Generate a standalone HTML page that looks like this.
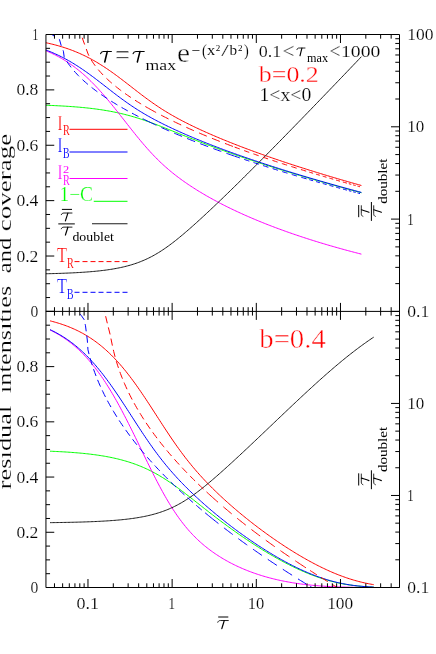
<!DOCTYPE html>
<html><head><meta charset="utf-8"><title>chart</title>
<style>html,body{margin:0;padding:0;background:#fff}body{width:436px;height:654px;overflow:hidden;font-family:"Liberation Serif",serif}svg text{font-family:"Liberation Serif",serif}</style>
</head><body>
<svg width="436" height="654" viewBox="0 0 436 654" style="display:block;will-change:transform">
<rect width="436" height="654" fill="#fff"/>
<defs><clipPath id="ct"><rect x="45.95" y="34.5" width="353.55" height="276.9"/></clipPath><clipPath id="cb"><rect x="45.95" y="311.4" width="353.55" height="276.1"/></clipPath></defs>
<g clip-path="url(#ct)" fill="none" stroke-width="1.0">
<path d="M24.72,104.66 L26.13,104.69 L27.54,104.72 L28.95,104.76 L30.36,104.79 L31.77,104.82 L33.17,104.86 L34.58,104.90 L35.99,104.93 L37.40,104.97 L38.81,105.02 L40.22,105.06 L41.63,105.10 L43.04,105.15 L44.44,105.20 L45.85,105.25 L47.26,105.30 L48.67,105.36 L50.08,105.41 L51.49,105.47 L52.90,105.53 L54.31,105.59 L55.71,105.66 L57.12,105.73 L58.53,105.80 L59.94,105.87 L61.35,105.95 L62.76,106.02 L64.17,106.11 L65.57,106.19 L66.98,106.28 L68.39,106.37 L69.80,106.46 L71.21,106.56 L72.62,106.66 L74.03,106.77 L75.44,106.88 L76.84,106.99 L78.25,107.11 L79.66,107.23 L81.07,107.36 L82.48,107.49 L83.89,107.63 L85.30,107.77 L86.71,107.91 L88.11,108.07 L89.52,108.22 L90.93,108.39 L92.34,108.55 L93.75,108.73 L95.16,108.91 L96.57,109.10 L97.98,109.29 L99.38,109.49 L100.79,109.70 L102.20,109.91 L103.61,110.13 L105.02,110.36 L106.43,110.60 L107.84,110.84 L109.24,111.09 L110.65,111.35 L112.06,111.62 L113.47,111.90 L114.88,112.18 L116.29,112.47 L117.70,112.78 L119.11,113.09 L120.51,113.41 L121.92,113.74 L123.33,114.08 L124.74,114.43 L126.15,114.79 L127.56,115.16 L128.97,115.53 L130.38,115.92 L131.78,116.32 L133.19,116.73 L134.60,117.14 L136.01,117.57 L137.42,118.00 L138.83,118.44 L140.24,118.90 L141.64,119.36 L143.05,119.83 L144.46,120.31 L145.87,120.79 L147.28,121.29 L148.69,121.79 L150.10,122.30 L151.51,122.81 L152.91,123.33 L154.32,123.86 L155.73,124.39 L157.14,124.93 L158.55,125.47 L159.96,126.02 L161.37,126.57 L162.78,127.12 L164.18,127.68 L165.59,128.24 L167.00,128.80 L168.41,129.37 L169.82,129.93 L171.23,130.50 L172.64,131.06 L174.05,131.63 L175.45,132.20 L176.86,132.77 L178.27,133.33 L179.68,133.90 L181.09,134.46 L182.50,135.03 L183.91,135.59 L185.31,136.15 L186.72,136.71 L188.13,137.27 L189.54,137.83 L190.95,138.38 L192.36,138.93 L193.77,139.48 L195.18,140.03 L196.58,140.58 L197.99,141.12 L199.40,141.67 L200.81,142.21 L202.22,142.75 L203.63,143.28 L205.04,143.82 L206.45,144.35 L207.85,144.88 L209.26,145.41 L210.67,145.93 L212.08,146.45 L213.49,146.98 L214.90,147.49 L216.31,148.01 L217.71,148.53 L219.12,149.04 L220.53,149.55 L221.94,150.06 L223.35,150.57 L224.76,151.07 L226.17,151.57 L227.58,152.07 L228.98,152.57 L230.39,153.07 L231.80,153.56 L233.21,154.06 L234.62,154.55 L236.03,155.04 L237.44,155.52 L238.85,156.01 L240.25,156.49 L241.66,156.97 L243.07,157.45 L244.48,157.93 L245.89,158.41 L247.30,158.88 L248.71,159.36 L250.12,159.83 L251.52,160.30 L252.93,160.76 L254.34,161.23 L255.75,161.70 L257.16,162.16 L258.57,162.62 L259.98,163.08 L261.38,163.54 L262.79,163.99 L264.20,164.45 L265.61,164.90 L267.02,165.35 L268.43,165.80 L269.84,166.25 L271.25,166.70 L272.65,167.15 L274.06,167.59 L275.47,168.03 L276.88,168.47 L278.29,168.91 L279.70,169.35 L281.11,169.79 L282.52,170.23 L283.92,170.66 L285.33,171.09 L286.74,171.53 L288.15,171.96 L289.56,172.39 L290.97,172.81 L292.38,173.24 L293.78,173.67 L295.19,174.09 L296.60,174.51 L298.01,174.93 L299.42,175.35 L300.83,175.77 L302.24,176.19 L303.65,176.61 L305.05,177.02 L306.46,177.44 L307.87,177.85 L309.28,178.26 L310.69,178.67 L312.10,179.08 L313.51,179.49 L314.92,179.90 L316.32,180.30 L317.73,180.71 L319.14,181.11 L320.55,181.51 L321.96,181.91 L323.37,182.31 L324.78,182.71 L326.18,183.11 L327.59,183.51 L329.00,183.91 L330.41,184.30 L331.82,184.70 L333.23,185.09 L334.64,185.48 L336.05,185.87 L337.45,186.26 L338.86,186.65 L340.27,187.04 L341.68,187.43 L343.09,187.81 L344.50,188.20 L345.91,188.58 L347.32,188.96 L348.72,189.35 L350.13,189.73 L351.54,190.11 L352.95,190.49 L354.36,190.87 L355.77,191.24 L357.18,191.62 L358.59,192.00 L359.99,192.37 L361.40,192.75" stroke="#00ff00"/>
<path d="M24.72,43.90 L26.13,44.25 L27.54,44.61 L28.95,44.99 L30.36,45.38 L31.77,45.79 L33.17,46.21 L34.58,46.64 L35.99,47.09 L37.40,47.56 L38.81,48.04 L40.22,48.54 L41.63,49.05 L43.04,49.58 L44.44,50.13 L45.85,50.70 L47.26,51.29 L48.67,51.90 L50.08,52.52 L51.49,53.17 L52.90,53.84 L54.31,54.52 L55.71,55.23 L57.12,55.97 L58.53,56.72 L59.94,57.50 L61.35,58.31 L62.76,59.13 L64.17,59.98 L65.57,60.86 L66.98,61.76 L68.39,62.69 L69.80,63.65 L71.21,64.63 L72.62,65.64 L74.03,66.67 L75.44,67.74 L76.84,68.83 L78.25,69.95 L79.66,71.09 L81.07,72.27 L82.48,73.48 L83.89,74.71 L85.30,75.97 L86.71,77.26 L88.11,78.58 L89.52,79.93 L90.93,81.30 L92.34,82.71 L93.75,84.14 L95.16,85.60 L96.57,87.08 L97.98,88.59 L99.38,90.13 L100.79,91.69 L102.20,93.27 L103.61,94.88 L105.02,96.51 L106.43,98.16 L107.84,99.83 L109.24,101.52 L110.65,103.23 L112.06,104.95 L113.47,106.69 L114.88,108.44 L116.29,110.21 L117.70,111.98 L119.11,113.76 L120.51,115.55 L121.92,117.35 L123.33,119.14 L124.74,120.94 L126.15,122.74 L127.56,124.54 L128.97,126.33 L130.38,128.12 L131.78,129.90 L133.19,131.67 L134.60,133.43 L136.01,135.18 L137.42,136.92 L138.83,138.63 L140.24,140.34 L141.64,142.02 L143.05,143.68 L144.46,145.32 L145.87,146.94 L147.28,148.54 L148.69,150.11 L150.10,151.66 L151.51,153.18 L152.91,154.68 L154.32,156.15 L155.73,157.59 L157.14,159.01 L158.55,160.40 L159.96,161.77 L161.37,163.11 L162.78,164.42 L164.18,165.71 L165.59,166.97 L167.00,168.21 L168.41,169.43 L169.82,170.62 L171.23,171.79 L172.64,172.94 L174.05,174.07 L175.45,175.18 L176.86,176.26 L178.27,177.33 L179.68,178.38 L181.09,179.42 L182.50,180.44 L183.91,181.44 L185.31,182.43 L186.72,183.40 L188.13,184.36 L189.54,185.30 L190.95,186.23 L192.36,187.15 L193.77,188.06 L195.18,188.96 L196.58,189.84 L197.99,190.72 L199.40,191.58 L200.81,192.43 L202.22,193.27 L203.63,194.11 L205.04,194.93 L206.45,195.75 L207.85,196.55 L209.26,197.35 L210.67,198.14 L212.08,198.92 L213.49,199.69 L214.90,200.45 L216.31,201.21 L217.71,201.96 L219.12,202.70 L220.53,203.44 L221.94,204.16 L223.35,204.88 L224.76,205.60 L226.17,206.30 L227.58,207.00 L228.98,207.70 L230.39,208.38 L231.80,209.07 L233.21,209.74 L234.62,210.41 L236.03,211.07 L237.44,211.73 L238.85,212.38 L240.25,213.03 L241.66,213.67 L243.07,214.31 L244.48,214.94 L245.89,215.56 L247.30,216.18 L248.71,216.79 L250.12,217.40 L251.52,218.01 L252.93,218.61 L254.34,219.20 L255.75,219.79 L257.16,220.38 L258.57,220.96 L259.98,221.54 L261.38,222.11 L262.79,222.68 L264.20,223.24 L265.61,223.80 L267.02,224.36 L268.43,224.91 L269.84,225.46 L271.25,226.00 L272.65,226.54 L274.06,227.07 L275.47,227.60 L276.88,228.13 L278.29,228.66 L279.70,229.17 L281.11,229.69 L282.52,230.20 L283.92,230.71 L285.33,231.22 L286.74,231.72 L288.15,232.22 L289.56,232.71 L290.97,233.20 L292.38,233.69 L293.78,234.18 L295.19,234.66 L296.60,235.14 L298.01,235.61 L299.42,236.08 L300.83,236.55 L302.24,237.02 L303.65,237.48 L305.05,237.94 L306.46,238.40 L307.87,238.85 L309.28,239.30 L310.69,239.75 L312.10,240.20 L313.51,240.64 L314.92,241.08 L316.32,241.51 L317.73,241.95 L319.14,242.38 L320.55,242.81 L321.96,243.23 L323.37,243.65 L324.78,244.07 L326.18,244.49 L327.59,244.91 L329.00,245.32 L330.41,245.73 L331.82,246.14 L333.23,246.54 L334.64,246.94 L336.05,247.34 L337.45,247.74 L338.86,248.14 L340.27,248.53 L341.68,248.92 L343.09,249.31 L344.50,249.69 L345.91,250.08 L347.32,250.46 L348.72,250.84 L350.13,251.21 L351.54,251.59 L352.95,251.96 L354.36,252.33 L355.77,252.70 L357.18,253.06 L358.59,253.43 L359.99,253.79 L361.40,254.15" stroke="#ff00ff"/>
<path d="M24.72,43.66 L26.13,43.99 L27.54,44.34 L28.95,44.70 L30.36,45.06 L31.77,45.45 L33.17,45.84 L34.58,46.25 L35.99,46.66 L37.40,47.10 L38.81,47.54 L40.22,48.00 L41.63,48.48 L43.04,48.97 L44.44,49.47 L45.85,49.99 L47.26,50.52 L48.67,51.07 L50.08,51.64 L51.49,52.22 L52.90,52.82 L54.31,53.44 L55.71,54.07 L57.12,54.72 L58.53,55.38 L59.94,56.07 L61.35,56.77 L62.76,57.49 L64.17,58.22 L65.57,58.97 L66.98,59.74 L68.39,60.53 L69.80,61.34 L71.21,62.16 L72.62,63.00 L74.03,63.86 L75.44,64.73 L76.84,65.63 L78.25,66.53 L79.66,67.46 L81.07,68.39 L82.48,69.35 L83.89,70.32 L85.30,71.30 L86.71,72.29 L88.11,73.30 L89.52,74.32 L90.93,75.36 L92.34,76.40 L93.75,77.45 L95.16,78.51 L96.57,79.58 L97.98,80.66 L99.38,81.74 L100.79,82.83 L102.20,83.92 L103.61,85.01 L105.02,86.11 L106.43,87.21 L107.84,88.30 L109.24,89.40 L110.65,90.49 L112.06,91.58 L113.47,92.66 L114.88,93.74 L116.29,94.82 L117.70,95.88 L119.11,96.94 L120.51,97.99 L121.92,99.03 L123.33,100.05 L124.74,101.07 L126.15,102.08 L127.56,103.07 L128.97,104.05 L130.38,105.02 L131.78,105.97 L133.19,106.91 L134.60,107.84 L136.01,108.75 L137.42,109.65 L138.83,110.54 L140.24,111.41 L141.64,112.27 L143.05,113.12 L144.46,113.95 L145.87,114.77 L147.28,115.58 L148.69,116.38 L150.10,117.17 L151.51,117.95 L152.91,118.72 L154.32,119.47 L155.73,120.22 L157.14,120.96 L158.55,121.69 L159.96,122.41 L161.37,123.13 L162.78,123.83 L164.18,124.53 L165.59,125.22 L167.00,125.91 L168.41,126.59 L169.82,127.26 L171.23,127.93 L172.64,128.59 L174.05,129.24 L175.45,129.89 L176.86,130.54 L178.27,131.17 L179.68,131.81 L181.09,132.44 L182.50,133.06 L183.91,133.68 L185.31,134.30 L186.72,134.91 L188.13,135.52 L189.54,136.12 L190.95,136.72 L192.36,137.31 L193.77,137.90 L195.18,138.49 L196.58,139.07 L197.99,139.65 L199.40,140.23 L200.81,140.80 L202.22,141.37 L203.63,141.94 L205.04,142.50 L206.45,143.06 L207.85,143.61 L209.26,144.17 L210.67,144.72 L212.08,145.27 L213.49,145.81 L214.90,146.35 L216.31,146.89 L217.71,147.42 L219.12,147.96 L220.53,148.49 L221.94,149.02 L223.35,149.54 L224.76,150.06 L226.17,150.58 L227.58,151.10 L228.98,151.62 L230.39,152.13 L231.80,152.64 L233.21,153.15 L234.62,153.65 L236.03,154.15 L237.44,154.66 L238.85,155.15 L240.25,155.65 L241.66,156.15 L243.07,156.64 L244.48,157.13 L245.89,157.62 L247.30,158.10 L248.71,158.59 L250.12,159.07 L251.52,159.55 L252.93,160.03 L254.34,160.50 L255.75,160.98 L257.16,161.45 L258.57,161.92 L259.98,162.39 L261.38,162.86 L262.79,163.32 L264.20,163.78 L265.61,164.25 L267.02,164.71 L268.43,165.17 L269.84,165.62 L271.25,166.08 L272.65,166.53 L274.06,166.98 L275.47,167.43 L276.88,167.88 L278.29,168.33 L279.70,168.77 L281.11,169.22 L282.52,169.66 L283.92,170.10 L285.33,170.54 L286.74,170.98 L288.15,171.41 L289.56,171.85 L290.97,172.28 L292.38,172.72 L293.78,173.15 L295.19,173.58 L296.60,174.00 L298.01,174.43 L299.42,174.86 L300.83,175.28 L302.24,175.70 L303.65,176.12 L305.05,176.55 L306.46,176.96 L307.87,177.38 L309.28,177.80 L310.69,178.21 L312.10,178.63 L313.51,179.04 L314.92,179.45 L316.32,179.86 L317.73,180.27 L319.14,180.68 L320.55,181.09 L321.96,181.49 L323.37,181.90 L324.78,182.30 L326.18,182.70 L327.59,183.10 L329.00,183.50 L330.41,183.90 L331.82,184.30 L333.23,184.69 L334.64,185.09 L336.05,185.48 L337.45,185.88 L338.86,186.27 L340.27,186.66 L341.68,187.05 L343.09,187.44 L344.50,187.83 L345.91,188.22 L347.32,188.60 L348.72,188.99 L350.13,189.37 L351.54,189.76 L352.95,190.14 L354.36,190.52 L355.77,190.90 L357.18,191.28 L358.59,191.66 L359.99,192.04 L361.40,192.41" stroke="#0000ff"/>
<path d="M24.72,39.24 L26.13,39.42 L27.54,39.60 L28.95,39.80 L30.36,40.00 L31.77,40.20 L33.17,40.42 L34.58,40.64 L35.99,40.87 L37.40,41.11 L38.81,41.35 L40.22,41.61 L41.63,41.87 L43.04,42.15 L44.44,42.43 L45.85,42.72 L47.26,43.03 L48.67,43.34 L50.08,43.66 L51.49,44.00 L52.90,44.34 L54.31,44.70 L55.71,45.07 L57.12,45.45 L58.53,45.84 L59.94,46.25 L61.35,46.67 L62.76,47.10 L64.17,47.55 L65.57,48.01 L66.98,48.48 L68.39,48.97 L69.80,49.48 L71.21,50.00 L72.62,50.53 L74.03,51.08 L75.44,51.65 L76.84,52.23 L78.25,52.83 L79.66,53.45 L81.07,54.08 L82.48,54.73 L83.89,55.39 L85.30,56.08 L86.71,56.78 L88.11,57.50 L89.52,58.23 L90.93,58.98 L92.34,59.76 L93.75,60.54 L95.16,61.35 L96.57,62.17 L97.98,63.01 L99.38,63.87 L100.79,64.75 L102.20,65.64 L103.61,66.54 L105.02,67.47 L106.43,68.41 L107.84,69.36 L109.24,70.33 L110.65,71.31 L112.06,72.31 L113.47,73.32 L114.88,74.34 L116.29,75.37 L117.70,76.41 L119.11,77.46 L120.51,78.53 L121.92,79.59 L123.33,80.67 L124.74,81.75 L126.15,82.84 L127.56,83.93 L128.97,85.03 L130.38,86.12 L131.78,87.22 L133.19,88.32 L134.60,89.41 L136.01,90.51 L137.42,91.59 L138.83,92.68 L140.24,93.76 L141.64,94.83 L143.05,95.90 L144.46,96.95 L145.87,98.00 L147.28,99.04 L148.69,100.07 L150.10,101.09 L151.51,102.09 L152.91,103.08 L154.32,104.06 L155.73,105.03 L157.14,105.98 L158.55,106.92 L159.96,107.85 L161.37,108.76 L162.78,109.66 L164.18,110.55 L165.59,111.42 L167.00,112.28 L168.41,113.13 L169.82,113.96 L171.23,114.78 L172.64,115.59 L174.05,116.39 L175.45,117.18 L176.86,117.96 L178.27,118.73 L179.68,119.48 L181.09,120.23 L182.50,120.97 L183.91,121.70 L185.31,122.42 L186.72,123.14 L188.13,123.84 L189.54,124.54 L190.95,125.23 L192.36,125.92 L193.77,126.60 L195.18,127.27 L196.58,127.93 L197.99,128.60 L199.40,129.25 L200.81,129.90 L202.22,130.54 L203.63,131.18 L205.04,131.82 L206.45,132.45 L207.85,133.07 L209.26,133.69 L210.67,134.31 L212.08,134.92 L213.49,135.52 L214.90,136.13 L216.31,136.72 L217.71,137.32 L219.12,137.91 L220.53,138.50 L221.94,139.08 L223.35,139.66 L224.76,140.24 L226.17,140.81 L227.58,141.38 L228.98,141.94 L230.39,142.51 L231.80,143.07 L233.21,143.62 L234.62,144.18 L236.03,144.73 L237.44,145.27 L238.85,145.82 L240.25,146.36 L241.66,146.90 L243.07,147.43 L244.48,147.96 L245.89,148.50 L247.30,149.02 L248.71,149.55 L250.12,150.07 L251.52,150.59 L252.93,151.11 L254.34,151.62 L255.75,152.13 L257.16,152.64 L258.57,153.15 L259.98,153.66 L261.38,154.16 L262.79,154.66 L264.20,155.16 L265.61,155.66 L267.02,156.15 L268.43,156.64 L269.84,157.13 L271.25,157.62 L272.65,158.11 L274.06,158.59 L275.47,159.07 L276.88,159.55 L278.29,160.03 L279.70,160.51 L281.11,160.98 L282.52,161.46 L283.92,161.93 L285.33,162.40 L286.74,162.86 L288.15,163.33 L289.56,163.79 L290.97,164.25 L292.38,164.71 L293.78,165.17 L295.19,165.63 L296.60,166.08 L298.01,166.54 L299.42,166.99 L300.83,167.44 L302.24,167.89 L303.65,168.33 L305.05,168.78 L306.46,169.22 L307.87,169.67 L309.28,170.11 L310.69,170.55 L312.10,170.98 L313.51,171.42 L314.92,171.86 L316.32,172.29 L317.73,172.72 L319.14,173.15 L320.55,173.58 L321.96,174.01 L323.37,174.44 L324.78,174.86 L326.18,175.29 L327.59,175.71 L329.00,176.13 L330.41,176.55 L331.82,176.97 L333.23,177.39 L334.64,177.80 L336.05,178.22 L337.45,178.63 L338.86,179.05 L340.27,179.46 L341.68,179.87 L343.09,180.28 L344.50,180.68 L345.91,181.09 L347.32,181.50 L348.72,181.90 L350.13,182.30 L351.54,182.71 L352.95,183.11 L354.36,183.51 L355.77,183.91 L357.18,184.30 L358.59,184.70 L359.99,185.10 L361.40,185.49" stroke="#ff0000"/>
<path d="M24.72,274.12 L26.13,274.10 L27.54,274.08 L28.95,274.06 L30.36,274.04 L31.77,274.02 L33.17,274.00 L34.58,273.98 L35.99,273.96 L37.40,273.93 L38.81,273.91 L40.22,273.88 L41.63,273.85 L43.04,273.83 L44.44,273.80 L45.85,273.76 L47.26,273.73 L48.67,273.70 L50.08,273.66 L51.49,273.63 L52.90,273.59 L54.31,273.55 L55.71,273.51 L57.12,273.47 L58.53,273.42 L59.94,273.38 L61.35,273.33 L62.76,273.28 L64.17,273.23 L65.57,273.17 L66.98,273.11 L68.39,273.06 L69.80,272.99 L71.21,272.93 L72.62,272.86 L74.03,272.79 L75.44,272.72 L76.84,272.64 L78.25,272.56 L79.66,272.48 L81.07,272.39 L82.48,272.30 L83.89,272.21 L85.30,272.11 L86.71,272.01 L88.11,271.90 L89.52,271.79 L90.93,271.68 L92.34,271.55 L93.75,271.43 L95.16,271.30 L96.57,271.16 L97.98,271.01 L99.38,270.86 L100.79,270.70 L102.20,270.54 L103.61,270.37 L105.02,270.19 L106.43,270.00 L107.84,269.80 L109.24,269.60 L110.65,269.38 L112.06,269.16 L113.47,268.92 L114.88,268.67 L116.29,268.42 L117.70,268.15 L119.11,267.87 L120.51,267.57 L121.92,267.27 L123.33,266.94 L124.74,266.61 L126.15,266.26 L127.56,265.89 L128.97,265.51 L130.38,265.11 L131.78,264.69 L133.19,264.25 L134.60,263.79 L136.01,263.32 L137.42,262.82 L138.83,262.30 L140.24,261.76 L141.64,261.20 L143.05,260.62 L144.46,260.01 L145.87,259.38 L147.28,258.73 L148.69,258.05 L150.10,257.34 L151.51,256.61 L152.91,255.86 L154.32,255.08 L155.73,254.28 L157.14,253.45 L158.55,252.59 L159.96,251.72 L161.37,250.81 L162.78,249.89 L164.18,248.94 L165.59,247.97 L167.00,246.98 L168.41,245.97 L169.82,244.93 L171.23,243.88 L172.64,242.81 L174.05,241.72 L175.45,240.61 L176.86,239.49 L178.27,238.36 L179.68,237.21 L181.09,236.04 L182.50,234.87 L183.91,233.68 L185.31,232.48 L186.72,231.27 L188.13,230.05 L189.54,228.82 L190.95,227.58 L192.36,226.33 L193.77,225.08 L195.18,223.82 L196.58,222.55 L197.99,221.27 L199.40,219.99 L200.81,218.70 L202.22,217.41 L203.63,216.11 L205.04,214.80 L206.45,213.49 L207.85,212.18 L209.26,210.86 L210.67,209.54 L212.08,208.21 L213.49,206.88 L214.90,205.54 L216.31,204.20 L217.71,202.86 L219.12,201.51 L220.53,200.16 L221.94,198.80 L223.35,197.45 L224.76,196.09 L226.17,194.72 L227.58,193.36 L228.98,191.99 L230.39,190.62 L231.80,189.24 L233.21,187.87 L234.62,186.49 L236.03,185.10 L237.44,183.72 L238.85,182.33 L240.25,180.94 L241.66,179.55 L243.07,178.16 L244.48,176.76 L245.89,175.37 L247.30,173.97 L248.71,172.57 L250.12,171.16 L251.52,169.76 L252.93,168.35 L254.34,166.94 L255.75,165.53 L257.16,164.12 L258.57,162.71 L259.98,161.29 L261.38,159.87 L262.79,158.46 L264.20,157.04 L265.61,155.61 L267.02,154.19 L268.43,152.77 L269.84,151.34 L271.25,149.92 L272.65,148.49 L274.06,147.06 L275.47,145.63 L276.88,144.20 L278.29,142.76 L279.70,141.33 L281.11,139.89 L282.52,138.46 L283.92,137.02 L285.33,135.58 L286.74,134.14 L288.15,132.70 L289.56,131.26 L290.97,129.81 L292.38,128.37 L293.78,126.93 L295.19,125.48 L296.60,124.03 L298.01,122.58 L299.42,121.14 L300.83,119.69 L302.24,118.24 L303.65,116.78 L305.05,115.33 L306.46,113.88 L307.87,112.43 L309.28,110.97 L310.69,109.52 L312.10,108.06 L313.51,106.60 L314.92,105.14 L316.32,103.69 L317.73,102.23 L319.14,100.77 L320.55,99.31 L321.96,97.85 L323.37,96.38 L324.78,94.92 L326.18,93.46 L327.59,91.99 L329.00,90.53 L330.41,89.06 L331.82,87.60 L333.23,86.13 L334.64,84.66 L336.05,83.19 L337.45,81.73 L338.86,80.26 L340.27,78.79 L341.68,77.32 L343.09,75.85 L344.50,74.38 L345.91,72.90 L347.32,71.43 L348.72,69.96 L350.13,68.48 L351.54,67.01 L352.95,65.54 L354.36,64.06 L355.77,62.59 L357.18,61.11 L358.59,59.63 L359.99,58.16 L361.40,56.68" stroke="#1c1c1c"/>
<path d="M78.00,26.50 L81.00,34.50 L88.11,54.06 L89.52,56.88 L90.93,59.38 L92.34,61.65 L93.75,63.75 L95.16,65.70 L96.57,67.54 L97.98,69.28 L99.38,70.94 L100.79,72.53 L102.20,74.05 L103.61,75.52 L105.02,76.94 L106.43,78.31 L107.84,79.64 L109.24,80.93 L110.65,82.18 L112.06,83.41 L113.47,84.60 L114.88,85.77 L116.29,86.91 L117.70,88.02 L119.11,89.11 L120.51,90.19 L121.92,91.24 L123.33,92.27 L124.74,93.28 L126.15,94.28 L127.56,95.26 L128.97,96.23 L130.38,97.18 L131.78,98.11 L133.19,99.03 L134.60,99.94 L136.01,100.84 L137.42,101.73 L138.83,102.60 L140.24,103.46 L141.64,104.31 L143.05,105.15 L144.46,105.99 L145.87,106.81 L147.28,107.62 L148.69,108.42" stroke="#ff0000" stroke-dasharray="7.2 4.8"/>
<path d="M148.69,108.42 L150.10,109.22 L151.51,110.01 L152.91,110.78 L154.32,111.56 L155.73,112.32 L157.14,113.07 L158.55,113.82 L159.96,114.56 L161.37,115.30 L162.78,116.03 L164.18,116.75 L165.59,117.46 L167.00,118.17 L168.41,118.88 L169.82,119.57 L171.23,120.27 L172.64,120.95 L174.05,121.63 L175.45,122.31 L176.86,122.98 L178.27,123.64 L179.68,124.30 L181.09,124.96 L182.50,125.61 L183.91,126.26 L185.31,126.90 L186.72,127.54 L188.13,128.17 L189.54,128.80 L190.95,129.42 L192.36,130.04 L193.77,130.66 L195.18,131.27 L196.58,131.88 L197.99,132.49 L199.40,133.09 L200.81,133.69 L202.22,134.28 L203.63,134.87 L205.04,135.46 L206.45,136.04 L207.85,136.62 L209.26,137.20 L210.67,137.77 L212.08,138.34 L213.49,138.91 L214.90,139.47 L216.31,140.04 L217.71,140.59 L219.12,141.15 L220.53,141.70 L221.94,142.25 L223.35,142.80 L224.76,143.34 L226.17,143.89 L227.58,144.42 L228.98,144.96 L230.39,145.49 L231.80,146.03 L233.21,146.55 L234.62,147.08" stroke="#ff0000" stroke-dasharray="8.5 5.5"/>
<path d="M234.62,147.08 L236.03,147.60 L237.44,148.13 L238.85,148.64 L240.25,149.16 L241.66,149.68 L243.07,150.19 L244.48,150.70 L245.89,151.20 L247.30,151.71 L248.71,152.21 L250.12,152.71 L251.52,153.21 L252.93,153.71 L254.34,154.20 L255.75,154.70 L257.16,155.19 L258.57,155.68 L259.98,156.16 L261.38,156.65 L262.79,157.13 L264.20,157.61 L265.61,158.09 L267.02,158.57 L268.43,159.04 L269.84,159.52 L271.25,159.99 L272.65,160.46 L274.06,160.93 L275.47,161.39 L276.88,161.86 L278.29,162.32 L279.70,162.78 L281.11,163.24 L282.52,163.70 L283.92,164.16 L285.33,164.61 L286.74,165.07 L288.15,165.52 L289.56,165.97 L290.97,166.42 L292.38,166.86 L293.78,167.31 L295.19,167.75 L296.60,168.20 L298.01,168.64 L299.42,169.08 L300.83,169.52 L302.24,169.95 L303.65,170.39 L305.05,170.82 L306.46,171.26 L307.87,171.69 L309.28,172.12" stroke="#ff0000" stroke-dasharray="5.5 4.5"/>
<path d="M309.28,172.12 L310.69,172.55 L312.10,172.97 L313.51,173.40 L314.92,173.82 L316.32,174.25 L317.73,174.67 L319.14,175.09 L320.55,175.51 L321.96,175.93 L323.37,176.35 L324.78,176.76 L326.18,177.18 L327.59,177.59 L329.00,178.00 L330.41,178.41 L331.82,178.82 L333.23,179.23 L334.64,179.64 L336.05,180.05 L337.45,180.45 L338.86,180.86 L340.27,181.26 L341.68,181.66 L343.09,182.06 L344.50,182.46" stroke="#ff0000" stroke-dasharray="4 3"/>
<path d="M344.50,182.46 L345.91,182.86 L347.32,183.26 L348.72,183.66 L350.13,184.05 L351.54,184.45 L352.95,184.84 L354.36,185.23 L355.77,185.63 L357.18,186.02 L358.59,186.41 L359.99,186.79 L361.40,187.18" stroke="#ff0000" stroke-dasharray="2.5 2"/>
<path d="M49.00,32.50 L54.50,36.30 L59.50,39.60 L61.20,45.60 L63.40,51.20 L64.17,56.84 L65.57,59.35 L66.98,61.62 L68.39,63.72 L69.80,65.68 L71.21,67.52 L72.62,69.26 L74.03,70.92 L75.44,72.51 L76.84,74.03 L78.25,75.50 L79.66,76.92 L81.07,78.29 L82.48,79.62 L83.89,80.91 L85.30,82.17 L86.71,83.39 L88.11,84.58 L89.52,85.75 L90.93,86.89 L92.34,88.01 L93.75,89.10 L95.16,90.17 L96.57,91.22 L97.98,92.26 L99.38,93.27 L100.79,94.27 L102.20,95.25 L103.61,96.21 L105.02,97.16 L106.43,98.10 L107.84,99.02 L109.24,99.93 L110.65,100.83 L112.06,101.71 L113.47,102.59 L114.88,103.45 L116.29,104.30 L117.70,105.14 L119.11,105.97 L120.51,106.80 L121.92,107.61 L123.33,108.41 L124.74,109.21 L126.15,110.00 L127.56,110.77 L128.97,111.54 L130.38,112.31 L131.78,113.06 L133.19,113.81 L134.60,114.55 L136.01,115.29 L137.42,116.02 L138.83,116.74 L140.24,117.45 L141.64,118.16 L143.05,118.87 L144.46,119.56 L145.87,120.26 L147.28,120.94 L148.69,121.62" stroke="#0000ff" stroke-dasharray="7.2 4.8"/>
<path d="M148.69,121.62 L150.10,122.30 L151.51,122.97 L152.91,123.64 L154.32,124.30 L155.73,124.95 L157.14,125.60 L158.55,126.25 L159.96,126.89 L161.37,127.53 L162.78,128.16 L164.18,128.79 L165.59,129.42 L167.00,130.04 L168.41,130.65 L169.82,131.26 L171.23,131.87 L172.64,132.48 L174.05,133.08 L175.45,133.68 L176.86,134.27 L178.27,134.86 L179.68,135.45 L181.09,136.03 L182.50,136.61 L183.91,137.19 L185.31,137.76 L186.72,138.34 L188.13,138.90 L189.54,139.47 L190.95,140.03 L192.36,140.59 L193.77,141.14 L195.18,141.70 L196.58,142.25 L197.99,142.79 L199.40,143.34 L200.81,143.88 L202.22,144.42 L203.63,144.95 L205.04,145.49 L206.45,146.02 L207.85,146.55 L209.26,147.07 L210.67,147.60 L212.08,148.12 L213.49,148.64 L214.90,149.15 L216.31,149.67 L217.71,150.18 L219.12,150.69 L220.53,151.20 L221.94,151.70 L223.35,152.21 L224.76,152.71 L226.17,153.21 L227.58,153.70 L228.98,154.20 L230.39,154.69 L231.80,155.18 L233.21,155.67 L234.62,156.16" stroke="#0000ff" stroke-dasharray="8.5 5.5"/>
<path d="M234.62,156.16 L236.03,156.64 L237.44,157.12 L238.85,157.60 L240.25,158.08 L241.66,158.56 L243.07,159.04 L244.48,159.51 L245.89,159.98 L247.30,160.45 L248.71,160.92 L250.12,161.39 L251.52,161.85 L252.93,162.32 L254.34,162.78 L255.75,163.24 L257.16,163.69 L258.57,164.15 L259.98,164.61 L261.38,165.06 L262.79,165.51 L264.20,165.96 L265.61,166.41 L267.02,166.86 L268.43,167.30 L269.84,167.75 L271.25,168.19 L272.65,168.63 L274.06,169.07 L275.47,169.51 L276.88,169.95 L278.29,170.38 L279.70,170.82 L281.11,171.25 L282.52,171.68 L283.92,172.11 L285.33,172.54 L286.74,172.97 L288.15,173.39 L289.56,173.82 L290.97,174.24 L292.38,174.66 L293.78,175.09 L295.19,175.51 L296.60,175.92 L298.01,176.34 L299.42,176.76 L300.83,177.17 L302.24,177.59 L303.65,178.00 L305.05,178.41 L306.46,178.82 L307.87,179.23 L309.28,179.64" stroke="#0000ff" stroke-dasharray="5.5 4.5"/>
<path d="M309.28,179.64 L310.69,180.04 L312.10,180.45 L313.51,180.85 L314.92,181.26 L316.32,181.66 L317.73,182.06 L319.14,182.46 L320.55,182.86 L321.96,183.25 L323.37,183.65 L324.78,184.05 L326.18,184.44 L327.59,184.84 L329.00,185.23 L330.41,185.62 L331.82,186.01 L333.23,186.40 L334.64,186.79 L336.05,187.18 L337.45,187.56 L338.86,187.95 L340.27,188.33 L341.68,188.72 L343.09,189.10 L344.50,189.48" stroke="#0000ff" stroke-dasharray="4 3"/>
<path d="M344.50,189.48 L345.91,189.86 L347.32,190.24 L348.72,190.62 L350.13,191.00 L351.54,191.38 L352.95,191.75 L354.36,192.13 L355.77,192.50 L357.18,192.88 L358.59,193.25 L359.99,193.62 L361.40,193.99" stroke="#0000ff" stroke-dasharray="2.5 2"/>
</g>
<g clip-path="url(#cb)" fill="none" stroke-width="1.0">
<path d="M50.05,451.20 L51.40,451.26 L52.75,451.32 L54.11,451.38 L55.46,451.44 L56.82,451.51 L58.17,451.58 L59.52,451.65 L60.88,451.72 L62.23,451.79 L63.59,451.87 L64.94,451.95 L66.30,452.04 L67.65,452.12 L69.00,452.21 L70.36,452.31 L71.71,452.41 L73.07,452.51 L74.42,452.61 L75.77,452.72 L77.13,452.83 L78.48,452.95 L79.84,453.07 L81.19,453.19 L82.54,453.32 L83.90,453.46 L85.25,453.60 L86.61,453.74 L87.96,453.89 L89.32,454.05 L90.67,454.21 L92.02,454.38 L93.38,454.55 L94.73,454.73 L96.09,454.91 L97.44,455.11 L98.79,455.30 L100.15,455.51 L101.50,455.72 L102.86,455.95 L104.21,456.17 L105.57,456.41 L106.92,456.66 L108.27,456.91 L109.63,457.17 L110.98,457.45 L112.34,457.73 L113.69,458.02 L115.04,458.32 L116.40,458.63 L117.75,458.95 L119.11,459.29 L120.46,459.63 L121.82,459.99 L123.17,460.36 L124.52,460.74 L125.88,461.13 L127.23,461.53 L128.59,461.95 L129.94,462.38 L131.29,462.83 L132.65,463.29 L134.00,463.77 L135.36,464.25 L136.71,464.76 L138.07,465.28 L139.42,465.81 L140.77,466.36 L142.13,466.93 L143.48,467.52 L144.84,468.12 L146.19,468.73 L147.54,469.37 L148.90,470.02 L150.25,470.69 L151.61,471.37 L152.96,472.07 L154.31,472.79 L155.67,473.53 L157.02,474.29 L158.38,475.06 L159.73,475.85 L161.09,476.66 L162.44,477.48 L163.79,478.32 L165.15,479.18 L166.50,480.05 L167.86,480.94 L169.21,481.84 L170.56,482.76 L171.92,483.69 L173.27,484.64 L174.63,485.59 L175.98,486.56 L177.34,487.55 L178.69,488.54 L180.04,489.55 L181.40,490.56 L182.75,491.58 L184.11,492.61 L185.46,493.65 L186.81,494.69 L188.17,495.74 L189.52,496.80 L190.88,497.86 L192.23,498.92 L193.59,499.98 L194.94,501.05 L196.29,502.12 L197.65,503.19 L199.00,504.26 L200.36,505.33 L201.71,506.39 L203.06,507.46 L204.42,508.52 L205.77,509.59 L207.13,510.65 L208.48,511.70 L209.84,512.76 L211.19,513.81 L212.54,514.85 L213.90,515.89 L215.25,516.93 L216.61,517.96 L217.96,518.99 L219.31,520.02 L220.67,521.04 L222.02,522.05 L223.38,523.06 L224.73,524.06 L226.08,525.06 L227.44,526.05 L228.79,527.04 L230.15,528.03 L231.50,529.00 L232.86,529.97 L234.21,530.94 L235.56,531.90 L236.92,532.86 L238.27,533.80 L239.63,534.75 L240.98,535.69 L242.33,536.62 L243.69,537.54 L245.04,538.46 L246.40,539.38 L247.75,540.28 L249.11,541.19 L250.46,542.08 L251.81,542.97 L253.17,543.85 L254.52,544.73 L255.88,545.60 L257.23,546.47 L258.58,547.32 L259.94,548.17 L261.29,549.02 L262.65,549.86 L264.00,550.69 L265.36,551.51 L266.71,552.33 L268.06,553.14 L269.42,553.94 L270.77,554.74 L272.13,555.53 L273.48,556.31 L274.83,557.08 L276.19,557.85 L277.54,558.61 L278.90,559.36 L280.25,560.10 L281.61,560.84 L282.96,561.57 L284.31,562.29 L285.67,563.00 L287.02,563.70 L288.38,564.40 L289.73,565.08 L291.08,565.76 L292.44,566.43 L293.79,567.08 L295.15,567.73 L296.50,568.37 L297.85,569.01 L299.21,569.63 L300.56,570.24 L301.92,570.84 L303.27,571.43 L304.63,572.01 L305.98,572.59 L307.33,573.15 L308.69,573.70 L310.04,574.24 L311.40,574.77 L312.75,575.29 L314.10,575.79 L315.46,576.29 L316.81,576.78 L318.17,577.25 L319.52,577.71 L320.88,578.17 L322.23,578.61 L323.58,579.03 L324.94,579.45 L326.29,579.86 L327.65,580.25 L329.00,580.63 L330.35,581.00 L331.71,581.36 L333.06,581.70 L334.42,582.04 L335.77,582.36 L337.13,582.67 L338.48,582.97 L339.83,583.25 L341.19,583.53 L342.54,583.79 L343.90,584.04 L345.25,584.29 L346.60,584.51 L347.96,584.73 L349.31,584.94 L350.67,585.14 L352.02,585.32 L353.38,585.50 L354.73,585.67 L356.08,585.82 L357.44,585.97 L358.79,586.11 L360.15,586.23 L361.50,586.35 L362.85,586.46 L364.21,586.57 L365.56,586.66 L366.92,586.75 L368.27,586.83 L369.62,586.91 L370.98,586.97 L372.33,587.04 L373.69,587.09" stroke="#00ff00"/>
<path d="M50.05,329.97 L51.40,330.63 L52.75,331.32 L54.11,332.03 L55.46,332.76 L56.82,333.52 L58.17,334.30 L59.52,335.11 L60.88,335.94 L62.23,336.80 L63.59,337.69 L64.94,338.60 L66.30,339.55 L67.65,340.52 L69.00,341.53 L70.36,342.57 L71.71,343.64 L73.07,344.74 L74.42,345.87 L75.77,347.04 L77.13,348.25 L78.48,349.49 L79.84,350.77 L81.19,352.08 L82.54,353.43 L83.90,354.82 L85.25,356.25 L86.61,357.72 L87.96,359.22 L89.32,360.77 L90.67,362.36 L92.02,363.99 L93.38,365.67 L94.73,367.38 L96.09,369.14 L97.44,370.94 L98.79,372.78 L100.15,374.67 L101.50,376.60 L102.86,378.57 L104.21,380.59 L105.57,382.65 L106.92,384.75 L108.27,386.90 L109.63,389.09 L110.98,391.31 L112.34,393.59 L113.69,395.90 L115.04,398.25 L116.40,400.64 L117.75,403.06 L119.11,405.53 L120.46,408.03 L121.82,410.56 L123.17,413.12 L124.52,415.72 L125.88,418.34 L127.23,421.00 L128.59,423.68 L129.94,426.38 L131.29,429.10 L132.65,431.84 L134.00,434.60 L135.36,437.37 L136.71,440.15 L138.07,442.94 L139.42,445.74 L140.77,448.54 L142.13,451.35 L143.48,454.15 L144.84,456.94 L146.19,459.73 L147.54,462.50 L148.90,465.26 L150.25,468.01 L151.61,470.73 L152.96,473.44 L154.31,476.11 L155.67,478.76 L157.02,481.38 L158.38,483.97 L159.73,486.52 L161.09,489.04 L162.44,491.52 L163.79,493.95 L165.15,496.34 L166.50,498.69 L167.86,501.00 L169.21,503.25 L170.56,505.46 L171.92,507.62 L173.27,509.74 L174.63,511.80 L175.98,513.81 L177.34,515.77 L178.69,517.69 L180.04,519.55 L181.40,521.37 L182.75,523.13 L184.11,524.85 L185.46,526.52 L186.81,528.15 L188.17,529.73 L189.52,531.27 L190.88,532.76 L192.23,534.21 L193.59,535.63 L194.94,537.00 L196.29,538.34 L197.65,539.63 L199.00,540.90 L200.36,542.13 L201.71,543.33 L203.06,544.49 L204.42,545.63 L205.77,546.74 L207.13,547.82 L208.48,548.87 L209.84,549.89 L211.19,550.90 L212.54,551.87 L213.90,552.83 L215.25,553.76 L216.61,554.67 L217.96,555.55 L219.31,556.42 L220.67,557.27 L222.02,558.10 L223.38,558.91 L224.73,559.70 L226.08,560.47 L227.44,561.23 L228.79,561.97 L230.15,562.69 L231.50,563.40 L232.86,564.09 L234.21,564.76 L235.56,565.42 L236.92,566.07 L238.27,566.70 L239.63,567.32 L240.98,567.92 L242.33,568.51 L243.69,569.09 L245.04,569.65 L246.40,570.20 L247.75,570.74 L249.11,571.27 L250.46,571.78 L251.81,572.28 L253.17,572.77 L254.52,573.25 L255.88,573.72 L257.23,574.18 L258.58,574.62 L259.94,575.06 L261.29,575.48 L262.65,575.90 L264.00,576.30 L265.36,576.70 L266.71,577.08 L268.06,577.46 L269.42,577.82 L270.77,578.18 L272.13,578.52 L273.48,578.86 L274.83,579.19 L276.19,579.51 L277.54,579.82 L278.90,580.13 L280.25,580.42 L281.61,580.71 L282.96,580.98 L284.31,581.25 L285.67,581.52 L287.02,581.77 L288.38,582.02 L289.73,582.26 L291.08,582.49 L292.44,582.72 L293.79,582.93 L295.15,583.15 L296.50,583.35 L297.85,583.55 L299.21,583.74 L300.56,583.92 L301.92,584.10 L303.27,584.27 L304.63,584.44 L305.98,584.60 L307.33,584.75 L308.69,584.90 L310.04,585.04 L311.40,585.18 L312.75,585.31 L314.10,585.43 L315.46,585.55 L316.81,585.67 L318.17,585.78 L319.52,585.89 L320.88,585.99 L322.23,586.08 L323.58,586.17 L324.94,586.26 L326.29,586.35 L327.65,586.42 L329.00,586.50 L330.35,586.57 L331.71,586.64 L333.06,586.70 L334.42,586.76 L335.77,586.82 L337.13,586.87 L338.48,586.92 L339.83,586.97 L341.19,587.01 L342.54,587.05 L343.90,587.09 L345.25,587.13 L346.60,587.16 L347.96,587.19 L349.31,587.22 L350.67,587.25 L352.02,587.27 L353.38,587.30 L354.73,587.32 L356.08,587.34 L357.44,587.35 L358.79,587.37 L360.15,587.38 L361.50,587.40 L362.85,587.41 L364.21,587.42 L365.56,587.43 L366.92,587.44 L368.27,587.45 L369.62,587.45 L370.98,587.46 L372.33,587.47 L373.69,587.47" stroke="#ff00ff"/>
<path d="M50.05,329.66 L51.40,330.30 L52.75,330.96 L54.11,331.64 L55.46,332.34 L56.82,333.07 L58.17,333.82 L59.52,334.59 L60.88,335.39 L62.23,336.21 L63.59,337.05 L64.94,337.92 L66.30,338.82 L67.65,339.74 L69.00,340.69 L70.36,341.67 L71.71,342.68 L73.07,343.71 L74.42,344.78 L75.77,345.87 L77.13,346.99 L78.48,348.15 L79.84,349.33 L81.19,350.55 L82.54,351.79 L83.90,353.07 L85.25,354.38 L86.61,355.72 L87.96,357.09 L89.32,358.50 L90.67,359.94 L92.02,361.41 L93.38,362.91 L94.73,364.45 L96.09,366.01 L97.44,367.61 L98.79,369.24 L100.15,370.90 L101.50,372.60 L102.86,374.32 L104.21,376.07 L105.57,377.85 L106.92,379.66 L108.27,381.50 L109.63,383.36 L110.98,385.25 L112.34,387.16 L113.69,389.10 L115.04,391.06 L116.40,393.04 L117.75,395.04 L119.11,397.05 L120.46,399.08 L121.82,401.13 L123.17,403.19 L124.52,405.26 L125.88,407.34 L127.23,409.43 L128.59,411.53 L129.94,413.62 L131.29,415.72 L132.65,417.82 L134.00,419.92 L135.36,422.02 L136.71,424.11 L138.07,426.19 L139.42,428.26 L140.77,430.32 L142.13,432.37 L143.48,434.40 L144.84,436.42 L146.19,438.42 L147.54,440.40 L148.90,442.36 L150.25,444.31 L151.61,446.22 L152.96,448.12 L154.31,449.99 L155.67,451.84 L157.02,453.67 L158.38,455.47 L159.73,457.24 L161.09,458.99 L162.44,460.71 L163.79,462.41 L165.15,464.08 L166.50,465.73 L167.86,467.36 L169.21,468.96 L170.56,470.54 L171.92,472.10 L173.27,473.63 L174.63,475.14 L175.98,476.64 L177.34,478.11 L178.69,479.56 L180.04,481.00 L181.40,482.42 L182.75,483.82 L184.11,485.21 L185.46,486.58 L186.81,487.93 L188.17,489.27 L189.52,490.60 L190.88,491.91 L192.23,493.21 L193.59,494.50 L194.94,495.77 L196.29,497.04 L197.65,498.29 L199.00,499.53 L200.36,500.76 L201.71,501.98 L203.06,503.19 L204.42,504.39 L205.77,505.58 L207.13,506.76 L208.48,507.93 L209.84,509.09 L211.19,510.25 L212.54,511.39 L213.90,512.53 L215.25,513.65 L216.61,514.77 L217.96,515.88 L219.31,516.99 L220.67,518.08 L222.02,519.17 L223.38,520.24 L224.73,521.31 L226.08,522.38 L227.44,523.43 L228.79,524.48 L230.15,525.52 L231.50,526.55 L232.86,527.58 L234.21,528.60 L235.56,529.61 L236.92,530.61 L238.27,531.61 L239.63,532.60 L240.98,533.58 L242.33,534.56 L243.69,535.53 L245.04,536.49 L246.40,537.44 L247.75,538.39 L249.11,539.33 L250.46,540.27 L251.81,541.19 L253.17,542.11 L254.52,543.03 L255.88,543.93 L257.23,544.83 L258.58,545.72 L259.94,546.60 L261.29,547.48 L262.65,548.35 L264.00,549.21 L265.36,550.07 L266.71,550.91 L268.06,551.75 L269.42,552.59 L270.77,553.41 L272.13,554.23 L273.48,555.04 L274.83,555.84 L276.19,556.63 L277.54,557.42 L278.90,558.20 L280.25,558.97 L281.61,559.73 L282.96,560.48 L284.31,561.23 L285.67,561.96 L287.02,562.69 L288.38,563.41 L289.73,564.12 L291.08,564.82 L292.44,565.51 L293.79,566.19 L295.15,566.87 L296.50,567.53 L297.85,568.18 L299.21,568.83 L300.56,569.46 L301.92,570.09 L303.27,570.70 L304.63,571.31 L305.98,571.90 L307.33,572.48 L308.69,573.05 L310.04,573.62 L311.40,574.17 L312.75,574.71 L314.10,575.23 L315.46,575.75 L316.81,576.26 L318.17,576.75 L319.52,577.23 L320.88,577.70 L322.23,578.16 L323.58,578.61 L324.94,579.04 L326.29,579.47 L327.65,579.88 L329.00,580.28 L330.35,580.66 L331.71,581.04 L333.06,581.40 L334.42,581.75 L335.77,582.09 L337.13,582.41 L338.48,582.73 L339.83,583.03 L341.19,583.32 L342.54,583.59 L343.90,583.86 L345.25,584.11 L346.60,584.35 L347.96,584.58 L349.31,584.80 L350.67,585.01 L352.02,585.20 L353.38,585.39 L354.73,585.56 L356.08,585.73 L357.44,585.88 L358.79,586.03 L360.15,586.16 L361.50,586.29 L362.85,586.41 L364.21,586.52 L365.56,586.62 L366.92,586.71 L368.27,586.80 L369.62,586.87 L370.98,586.95 L372.33,587.01 L373.69,587.07" stroke="#0000ff"/>
<path d="M50.05,320.85 L51.40,321.19 L52.75,321.55 L54.11,321.91 L55.46,322.30 L56.82,322.69 L58.17,323.10 L59.52,323.52 L60.88,323.95 L62.23,324.41 L63.59,324.87 L64.94,325.35 L66.30,325.85 L67.65,326.37 L69.00,326.90 L70.36,327.45 L71.71,328.02 L73.07,328.61 L74.42,329.21 L75.77,329.84 L77.13,330.48 L78.48,331.15 L79.84,331.84 L81.19,332.55 L82.54,333.28 L83.90,334.04 L85.25,334.82 L86.61,335.62 L87.96,336.45 L89.32,337.30 L90.67,338.18 L92.02,339.08 L93.38,340.02 L94.73,340.97 L96.09,341.96 L97.44,342.97 L98.79,344.02 L100.15,345.09 L101.50,346.19 L102.86,347.32 L104.21,348.49 L105.57,349.68 L106.92,350.90 L108.27,352.16 L109.63,353.44 L110.98,354.76 L112.34,356.11 L113.69,357.50 L115.04,358.91 L116.40,360.36 L117.75,361.84 L119.11,363.35 L120.46,364.90 L121.82,366.47 L123.17,368.08 L124.52,369.72 L125.88,371.39 L127.23,373.09 L128.59,374.82 L129.94,376.58 L131.29,378.37 L132.65,380.19 L134.00,382.03 L135.36,383.90 L136.71,385.80 L138.07,387.72 L139.42,389.66 L140.77,391.63 L142.13,393.61 L143.48,395.62 L144.84,397.64 L146.19,399.67 L147.54,401.73 L148.90,403.79 L150.25,405.86 L151.61,407.95 L152.96,410.04 L154.31,412.13 L155.67,414.23 L157.02,416.33 L158.38,418.43 L159.73,420.53 L161.09,422.62 L162.44,424.71 L163.79,426.79 L165.15,428.86 L166.50,430.91 L167.86,432.96 L169.21,434.99 L170.56,437.00 L171.92,439.00 L173.27,440.97 L174.63,442.93 L175.98,444.86 L177.34,446.77 L178.69,448.66 L180.04,450.53 L181.40,452.37 L182.75,454.19 L184.11,455.98 L185.46,457.75 L186.81,459.49 L188.17,461.20 L189.52,462.90 L190.88,464.56 L192.23,466.21 L193.59,467.82 L194.94,469.42 L196.29,470.99 L197.65,472.54 L199.00,474.07 L200.36,475.58 L201.71,477.06 L203.06,478.53 L204.42,479.98 L205.77,481.41 L207.13,482.83 L208.48,484.22 L209.84,485.60 L211.19,486.97 L212.54,488.32 L213.90,489.66 L215.25,490.98 L216.61,492.29 L217.96,493.58 L219.31,494.87 L220.67,496.14 L222.02,497.40 L223.38,498.65 L224.73,499.89 L226.08,501.12 L227.44,502.33 L228.79,503.54 L230.15,504.74 L231.50,505.92 L232.86,507.10 L234.21,508.27 L235.56,509.43 L236.92,510.58 L238.27,511.72 L239.63,512.85 L240.98,513.98 L242.33,515.09 L243.69,516.20 L245.04,517.30 L246.40,518.39 L247.75,519.48 L249.11,520.55 L250.46,521.62 L251.81,522.68 L253.17,523.74 L254.52,524.78 L255.88,525.82 L257.23,526.85 L258.58,527.88 L259.94,528.89 L261.29,529.90 L262.65,530.90 L264.00,531.90 L265.36,532.89 L266.71,533.87 L268.06,534.84 L269.42,535.81 L270.77,536.77 L272.13,537.72 L273.48,538.66 L274.83,539.60 L276.19,540.54 L277.54,541.46 L278.90,542.38 L280.25,543.29 L281.61,544.19 L282.96,545.09 L284.31,545.98 L285.67,546.86 L287.02,547.73 L288.38,548.60 L289.73,549.46 L291.08,550.31 L292.44,551.16 L293.79,552.00 L295.15,552.83 L296.50,553.65 L297.85,554.46 L299.21,555.27 L300.56,556.07 L301.92,556.86 L303.27,557.65 L304.63,558.42 L305.98,559.19 L307.33,559.95 L308.69,560.70 L310.04,561.44 L311.40,562.17 L312.75,562.90 L314.10,563.61 L315.46,564.32 L316.81,565.02 L318.17,565.71 L319.52,566.39 L320.88,567.06 L322.23,567.72 L323.58,568.37 L324.94,569.01 L326.29,569.64 L327.65,570.27 L329.00,570.88 L330.35,571.48 L331.71,572.07 L333.06,572.65 L334.42,573.22 L335.77,573.78 L337.13,574.32 L338.48,574.86 L339.83,575.38 L341.19,575.90 L342.54,576.40 L343.90,576.89 L345.25,577.37 L346.60,577.84 L347.96,578.29 L349.31,578.74 L350.67,579.17 L352.02,579.59 L353.38,580.00 L354.73,580.39 L356.08,580.77 L357.44,581.14 L358.79,581.50 L360.15,581.85 L361.50,582.18 L362.85,582.50 L364.21,582.81 L365.56,583.11 L366.92,583.40 L368.27,583.67 L369.62,583.93 L370.98,584.18 L372.33,584.42 L373.69,584.65" stroke="#ff0000"/>
<path d="M50.05,522.66 L51.40,522.64 L52.75,522.62 L54.11,522.60 L55.46,522.58 L56.82,522.57 L58.17,522.54 L59.52,522.52 L60.88,522.50 L62.23,522.48 L63.59,522.45 L64.94,522.43 L66.30,522.40 L67.65,522.38 L69.00,522.35 L70.36,522.32 L71.71,522.29 L73.07,522.26 L74.42,522.23 L75.77,522.19 L77.13,522.16 L78.48,522.12 L79.84,522.08 L81.19,522.05 L82.54,522.00 L83.90,521.96 L85.25,521.92 L86.61,521.87 L87.96,521.82 L89.32,521.77 L90.67,521.72 L92.02,521.67 L93.38,521.61 L94.73,521.55 L96.09,521.49 L97.44,521.43 L98.79,521.36 L100.15,521.30 L101.50,521.22 L102.86,521.15 L104.21,521.07 L105.57,520.99 L106.92,520.91 L108.27,520.82 L109.63,520.73 L110.98,520.64 L112.34,520.54 L113.69,520.43 L115.04,520.33 L116.40,520.21 L117.75,520.10 L119.11,519.98 L120.46,519.85 L121.82,519.72 L123.17,519.58 L124.52,519.44 L125.88,519.29 L127.23,519.13 L128.59,518.97 L129.94,518.80 L131.29,518.62 L132.65,518.44 L134.00,518.24 L135.36,518.04 L136.71,517.83 L138.07,517.61 L139.42,517.38 L140.77,517.14 L142.13,516.89 L143.48,516.63 L144.84,516.36 L146.19,516.07 L147.54,515.78 L148.90,515.47 L150.25,515.15 L151.61,514.81 L152.96,514.46 L154.31,514.09 L155.67,513.71 L157.02,513.31 L158.38,512.89 L159.73,512.46 L161.09,512.01 L162.44,511.54 L163.79,511.05 L165.15,510.54 L166.50,510.01 L167.86,509.46 L169.21,508.89 L170.56,508.30 L171.92,507.68 L173.27,507.05 L174.63,506.39 L175.98,505.71 L177.34,505.00 L178.69,504.27 L180.04,503.52 L181.40,502.75 L182.75,501.96 L184.11,501.14 L185.46,500.30 L186.81,499.43 L188.17,498.55 L189.52,497.65 L190.88,496.72 L192.23,495.78 L193.59,494.81 L194.94,493.83 L196.29,492.83 L197.65,491.81 L199.00,490.78 L200.36,489.73 L201.71,488.67 L203.06,487.59 L204.42,486.50 L205.77,485.40 L207.13,484.29 L208.48,483.16 L209.84,482.03 L211.19,480.88 L212.54,479.73 L213.90,478.57 L215.25,477.39 L216.61,476.22 L217.96,475.03 L219.31,473.84 L220.67,472.64 L222.02,471.43 L223.38,470.22 L224.73,469.01 L226.08,467.79 L227.44,466.56 L228.79,465.33 L230.15,464.10 L231.50,462.86 L232.86,461.62 L234.21,460.37 L235.56,459.12 L236.92,457.87 L238.27,456.61 L239.63,455.36 L240.98,454.09 L242.33,452.83 L243.69,451.56 L245.04,450.29 L246.40,449.02 L247.75,447.75 L249.11,446.47 L250.46,445.20 L251.81,443.92 L253.17,442.64 L254.52,441.36 L255.88,440.07 L257.23,438.79 L258.58,437.50 L259.94,436.22 L261.29,434.93 L262.65,433.64 L264.00,432.35 L265.36,431.06 L266.71,429.77 L268.06,428.48 L269.42,427.19 L270.77,425.90 L272.13,424.61 L273.48,423.32 L274.83,422.02 L276.19,420.73 L277.54,419.44 L278.90,418.15 L280.25,416.86 L281.61,415.58 L282.96,414.29 L284.31,413.00 L285.67,411.72 L287.02,410.43 L288.38,409.15 L289.73,407.87 L291.08,406.58 L292.44,405.31 L293.79,404.03 L295.15,402.75 L296.50,401.48 L297.85,400.21 L299.21,398.94 L300.56,397.67 L301.92,396.41 L303.27,395.15 L304.63,393.89 L305.98,392.64 L307.33,391.38 L308.69,390.13 L310.04,388.89 L311.40,387.65 L312.75,386.41 L314.10,385.17 L315.46,383.94 L316.81,382.71 L318.17,381.49 L319.52,380.27 L320.88,379.06 L322.23,377.85 L323.58,376.65 L324.94,375.45 L326.29,374.26 L327.65,373.07 L329.00,371.89 L330.35,370.71 L331.71,369.54 L333.06,368.38 L334.42,367.22 L335.77,366.07 L337.13,364.93 L338.48,363.79 L339.83,362.66 L341.19,361.53 L342.54,360.42 L343.90,359.31 L345.25,358.21 L346.60,357.12 L347.96,356.03 L349.31,354.96 L350.67,353.89 L352.02,352.83 L353.38,351.78 L354.73,350.74 L356.08,349.70 L357.44,348.68 L358.79,347.67 L360.15,346.66 L361.50,345.67 L362.85,344.68 L364.21,343.71 L365.56,342.74 L366.92,341.78 L368.27,340.84 L369.62,339.90 L370.98,338.98 L372.33,338.06 L373.69,337.16" stroke="#1c1c1c"/>
<path d="M103.00,305.00 L107.00,322.00 L110.00,334.00 L112.34,345.37 L113.69,351.47 L115.04,356.76 L116.40,361.50 L117.75,365.82 L119.11,369.82 L120.46,373.57 L121.82,377.10 L123.17,380.46 L124.52,383.65 L125.88,386.71 L127.23,389.66 L128.59,392.49 L129.94,395.23 L131.29,397.89 L132.65,400.46 L134.00,402.96 L135.36,405.40 L136.71,407.77 L138.07,410.09 L139.42,412.35 L140.77,414.56 L142.13,416.73 L143.48,418.85 L144.84,420.94 L146.19,422.98 L147.54,424.99 L148.90,426.96 L150.25,428.90 L151.61,430.80 L152.96,432.68 L154.31,434.53 L155.67,436.35 L157.02,438.15 L158.38,439.92 L159.73,441.66 L161.09,443.38 L162.44,445.09 L163.79,446.76 L165.15,448.42 L166.50,450.06 L167.86,451.68 L169.21,453.28 L170.56,454.87 L171.92,456.43 L173.27,457.98 L174.63,459.52 L175.98,461.03 L177.34,462.54 L178.69,464.02 L180.04,465.50 L181.40,466.96 L182.75,468.40 L184.11,469.83 L185.46,471.25 L186.81,472.66 L188.17,474.06 L189.52,475.44 L190.88,476.81 L192.23,478.17 L193.59,479.52 L194.94,480.86 L196.29,482.19 L197.65,483.50 L199.00,484.81 L200.36,486.11 L201.71,487.40 L203.06,488.68 L204.42,489.95 L205.77,491.21 L207.13,492.46 L208.48,493.70 L209.84,494.94" stroke="#ff0000" stroke-dasharray="7.3 4.2"/>
<path d="M209.84,494.94 L211.19,496.16 L212.54,497.38 L213.90,498.59 L215.25,499.80 L216.61,500.99 L217.96,502.18 L219.31,503.36 L220.67,504.53 L222.02,505.70 L223.38,506.86 L224.73,508.01 L226.08,509.16 L227.44,510.30 L228.79,511.43 L230.15,512.56 L231.50,513.68 L232.86,514.79 L234.21,515.90 L235.56,517.00 L236.92,518.09 L238.27,519.18 L239.63,520.27 L240.98,521.35 L242.33,522.42 L243.69,523.49 L245.04,524.55 L246.40,525.61 L247.75,526.66 L249.11,527.71 L250.46,528.75 L251.81,529.79 L253.17,530.82 L254.52,531.85 L255.88,532.87 L257.23,533.89 L258.58,534.90 L259.94,535.91 L261.29,536.91 L262.65,537.91 L264.00,538.91 L265.36,539.90 L266.71,540.88 L268.06,541.87 L269.42,542.84 L270.77,543.82 L272.13,544.79 L273.48,545.75 L274.83,546.72 L276.19,547.67 L277.54,548.63 L278.90,549.58 L280.25,550.53 L281.61,551.47 L282.96,552.41 L284.31,553.34 L285.67,554.28 L287.02,555.20 L288.38,556.13 L289.73,557.05 L291.08,557.97 L292.44,558.88 L293.79,559.79 L295.15,560.70 L296.50,561.61 L297.85,562.51 L299.21,563.41" stroke="#ff0000" stroke-dasharray="11 7"/>
<path d="M299.21,563.41 L300.56,564.30 L301.92,565.19 L303.27,566.08 L304.63,566.97 L305.98,567.85 L307.33,568.73 L308.69,569.60 L310.04,570.48 L311.40,571.35 L312.75,572.22 L314.10,573.08 L315.46,573.94 L316.81,574.80 L318.17,575.66 L319.52,576.51 L320.88,577.36 L322.23,578.21 L323.58,579.06 L324.94,579.90 L326.29,580.74 L327.65,581.58 L329.00,582.41 L330.35,583.24 L331.71,584.07 L333.06,584.90 L334.42,585.73 L335.77,586.55 L337.13,587.37 L338.48,588.19 L339.83,589.00 L341.19,589.81 L342.54,590.62 L343.90,591.43 L345.25,592.24 L346.60,593.04 L347.96,593.84 L349.31,594.64 L350.67,595.44 L352.02,596.23 L353.38,597.02 L354.73,597.81 L356.08,598.60 L357.44,599.39 L358.79,600.17 L360.15,600.95 L361.50,601.73 L362.85,602.51 L364.21,603.28 L365.56,604.05 L366.92,604.83 L368.27,605.59 L369.62,606.36 L370.98,607.13 L372.33,607.89 L373.69,608.65" stroke="#ff0000" stroke-dasharray="8 5"/>
<path d="M73.00,305.00 L77.20,311.00 L81.30,315.50 L84.10,319.60 L85.50,325.80 L87.30,340.00 L87.96,349.81 L89.32,355.30 L90.67,360.17 L92.02,364.61 L93.38,368.69 L94.73,372.51 L96.09,376.10 L97.44,379.50 L98.79,382.74 L100.15,385.84 L101.50,388.82 L102.86,391.68 L104.21,394.45 L105.57,397.13 L106.92,399.72 L108.27,402.25 L109.63,404.70 L110.98,407.09 L112.34,409.42 L113.69,411.70 L115.04,413.93 L116.40,416.11 L117.75,418.24 L119.11,420.34 L120.46,422.39 L121.82,424.41 L123.17,426.39 L124.52,428.34 L125.88,430.26 L127.23,432.14 L128.59,434.00 L129.94,435.83 L131.29,437.63 L132.65,439.41 L134.00,441.16 L135.36,442.89 L136.71,444.60 L138.07,446.28 L139.42,447.95 L140.77,449.59 L142.13,451.22 L143.48,452.82 L144.84,454.41 L146.19,455.98 L147.54,457.54 L148.90,459.07 L150.25,460.60 L151.61,462.10 L152.96,463.60 L154.31,465.07 L155.67,466.54 L157.02,467.98 L158.38,469.42 L159.73,470.84 L161.09,472.25 L162.44,473.65 L163.79,475.04 L165.15,476.41 L166.50,477.78 L167.86,479.13 L169.21,480.47 L170.56,481.80 L171.92,483.12 L173.27,484.43 L174.63,485.73 L175.98,487.03 L177.34,488.31 L178.69,489.58 L180.04,490.84 L181.40,492.10 L182.75,493.34 L184.11,494.58 L185.46,495.81 L186.81,497.03 L188.17,498.24 L189.52,499.45 L190.88,500.65 L192.23,501.84 L193.59,503.02 L194.94,504.20 L196.29,505.36 L197.65,506.53 L199.00,507.68 L200.36,508.83 L201.71,509.97 L203.06,511.10 L204.42,512.23 L205.77,513.35 L207.13,514.47 L208.48,515.58 L209.84,516.68" stroke="#0000ff" stroke-dasharray="7.3 4.2"/>
<path d="M209.84,516.68 L211.19,517.78 L212.54,518.87 L213.90,519.96 L215.25,521.04 L216.61,522.11 L217.96,523.18 L219.31,524.25 L220.67,525.30 L222.02,526.36 L223.38,527.41 L224.73,528.45 L226.08,529.49 L227.44,530.52 L228.79,531.55 L230.15,532.57 L231.50,533.59 L232.86,534.61 L234.21,535.62 L235.56,536.62 L236.92,537.62 L238.27,538.62 L239.63,539.61 L240.98,540.60 L242.33,541.58 L243.69,542.56 L245.04,543.54 L246.40,544.51 L247.75,545.48 L249.11,546.44 L250.46,547.40 L251.81,548.35 L253.17,549.31 L254.52,550.25 L255.88,551.20 L257.23,552.14 L258.58,553.07 L259.94,554.01 L261.29,554.94 L262.65,555.86 L264.00,556.78 L265.36,557.70 L266.71,558.62 L268.06,559.53 L269.42,560.44 L270.77,561.35 L272.13,562.25 L273.48,563.15 L274.83,564.04 L276.19,564.94 L277.54,565.82 L278.90,566.71 L280.25,567.59 L281.61,568.47 L282.96,569.35 L284.31,570.23 L285.67,571.10 L287.02,571.97 L288.38,572.83 L289.73,573.69 L291.08,574.55 L292.44,575.41 L293.79,576.27 L295.15,577.12 L296.50,577.97 L297.85,578.81 L299.21,579.66" stroke="#0000ff" stroke-dasharray="11 7"/>
<path d="M299.21,579.66 L300.56,580.50 L301.92,581.34 L303.27,582.17 L304.63,583.00 L305.98,583.83 L307.33,584.66 L308.69,585.49 L310.04,586.31 L311.40,587.13 L312.75,587.95 L314.10,588.77 L315.46,589.58 L316.81,590.39 L318.17,591.20 L319.52,592.00 L320.88,592.81 L322.23,593.61 L323.58,594.41 L324.94,595.21 L326.29,596.00 L327.65,596.79 L329.00,597.58 L330.35,598.37 L331.71,599.16 L333.06,599.94 L334.42,600.72 L335.77,601.50 L337.13,602.28 L338.48,603.06 L339.83,603.83 L341.19,604.60 L342.54,605.37 L343.90,606.14 L345.25,606.91 L346.60,607.67 L347.96,608.43 L349.31,609.19 L350.67,609.95 L352.02,610.70 L353.38,611.46 L354.73,612.21 L356.08,612.96 L357.44,613.71 L358.79,614.45 L360.15,615.20 L361.50,615.94 L362.85,616.68 L364.21,617.42 L365.56,618.16 L366.92,618.89 L368.27,619.63 L369.62,620.36 L370.98,621.09 L372.33,621.82 L373.69,622.55" stroke="#0000ff" stroke-dasharray="8 5"/>
</g>
<g fill="none" stroke="#000" stroke-width="1"><path d="M45.95,34.5H399.5V587.5H45.95Z M45.95,311.4H399.5" /><path d="M54.48,34.5v4.2 M54.48,307.2v8.4 M54.48,587.5v-4.2"/><path d="M62.63,34.5v4.2 M62.63,307.2v8.4 M62.63,587.5v-4.2"/><path d="M69.30,34.5v4.2 M69.30,307.2v8.4 M69.30,587.5v-4.2"/><path d="M74.93,34.5v4.2 M74.93,307.2v8.4 M74.93,587.5v-4.2"/><path d="M79.81,34.5v4.2 M79.81,307.2v8.4 M79.81,587.5v-4.2"/><path d="M84.12,34.5v4.2 M84.12,307.2v8.4 M84.12,587.5v-4.2"/><path d="M87.97,34.5v8.5 M87.97,302.9v17.0 M87.97,587.5v-8.5"/><path d="M113.31,34.5v4.2 M113.31,307.2v8.4 M113.31,587.5v-4.2"/><path d="M128.13,34.5v4.2 M128.13,307.2v8.4 M128.13,587.5v-4.2"/><path d="M138.65,34.5v4.2 M138.65,307.2v8.4 M138.65,587.5v-4.2"/><path d="M146.80,34.5v4.2 M146.80,307.2v8.4 M146.80,587.5v-4.2"/><path d="M153.47,34.5v4.2 M153.47,307.2v8.4 M153.47,587.5v-4.2"/><path d="M159.10,34.5v4.2 M159.10,307.2v8.4 M159.10,587.5v-4.2"/><path d="M163.98,34.5v4.2 M163.98,307.2v8.4 M163.98,587.5v-4.2"/><path d="M168.29,34.5v4.2 M168.29,307.2v8.4 M168.29,587.5v-4.2"/><path d="M172.14,34.5v8.5 M172.14,302.9v17.0 M172.14,587.5v-8.5"/><path d="M197.48,34.5v4.2 M197.48,307.2v8.4 M197.48,587.5v-4.2"/><path d="M212.30,34.5v4.2 M212.30,307.2v8.4 M212.30,587.5v-4.2"/><path d="M222.82,34.5v4.2 M222.82,307.2v8.4 M222.82,587.5v-4.2"/><path d="M230.97,34.5v4.2 M230.97,307.2v8.4 M230.97,587.5v-4.2"/><path d="M237.64,34.5v4.2 M237.64,307.2v8.4 M237.64,587.5v-4.2"/><path d="M243.27,34.5v4.2 M243.27,307.2v8.4 M243.27,587.5v-4.2"/><path d="M248.15,34.5v4.2 M248.15,307.2v8.4 M248.15,587.5v-4.2"/><path d="M252.46,34.5v4.2 M252.46,307.2v8.4 M252.46,587.5v-4.2"/><path d="M256.31,34.5v8.5 M256.31,302.9v17.0 M256.31,587.5v-8.5"/><path d="M281.65,34.5v4.2 M281.65,307.2v8.4 M281.65,587.5v-4.2"/><path d="M296.47,34.5v4.2 M296.47,307.2v8.4 M296.47,587.5v-4.2"/><path d="M306.99,34.5v4.2 M306.99,307.2v8.4 M306.99,587.5v-4.2"/><path d="M315.14,34.5v4.2 M315.14,307.2v8.4 M315.14,587.5v-4.2"/><path d="M321.81,34.5v4.2 M321.81,307.2v8.4 M321.81,587.5v-4.2"/><path d="M327.44,34.5v4.2 M327.44,307.2v8.4 M327.44,587.5v-4.2"/><path d="M332.32,34.5v4.2 M332.32,307.2v8.4 M332.32,587.5v-4.2"/><path d="M336.63,34.5v4.2 M336.63,307.2v8.4 M336.63,587.5v-4.2"/><path d="M340.48,34.5v8.5 M340.48,302.9v17.0 M340.48,587.5v-8.5"/><path d="M365.82,34.5v4.2 M365.82,307.2v8.4 M365.82,587.5v-4.2"/><path d="M380.64,34.5v4.2 M380.64,307.2v8.4 M380.64,587.5v-4.2"/><path d="M391.16,34.5v4.2 M391.16,307.2v8.4 M391.16,587.5v-4.2"/><path d="M45.95,311.40h8.3"/><path d="M45.95,587.50h8.3"/><path d="M45.95,297.55h4.1"/><path d="M45.95,573.70h4.1"/><path d="M45.95,283.71h4.1"/><path d="M45.95,559.89h4.1"/><path d="M45.95,269.86h4.1"/><path d="M45.95,546.09h4.1"/><path d="M45.95,256.02h8.3"/><path d="M45.95,532.28h8.3"/><path d="M45.95,242.17h4.1"/><path d="M45.95,518.48h4.1"/><path d="M45.95,228.33h4.1"/><path d="M45.95,504.67h4.1"/><path d="M45.95,214.48h4.1"/><path d="M45.95,490.87h4.1"/><path d="M45.95,200.64h8.3"/><path d="M45.95,477.06h8.3"/><path d="M45.95,186.79h4.1"/><path d="M45.95,463.25h4.1"/><path d="M45.95,172.95h4.1"/><path d="M45.95,449.45h4.1"/><path d="M45.95,159.10h4.1"/><path d="M45.95,435.64h4.1"/><path d="M45.95,145.26h8.3"/><path d="M45.95,421.84h8.3"/><path d="M45.95,131.41h4.1"/><path d="M45.95,408.03h4.1"/><path d="M45.95,117.57h4.1"/><path d="M45.95,394.23h4.1"/><path d="M45.95,103.72h4.1"/><path d="M45.95,380.42h4.1"/><path d="M45.95,89.88h8.3"/><path d="M45.95,366.62h8.3"/><path d="M45.95,76.03h4.1"/><path d="M45.95,352.81h4.1"/><path d="M45.95,62.19h4.1"/><path d="M45.95,339.01h4.1"/><path d="M45.95,48.34h4.1"/><path d="M45.95,325.20h4.1"/><path d="M45.95,34.50h8.3"/><path d="M45.95,311.40h8.3"/><path d="M399.5,311.40h-8.5"/><path d="M399.5,587.50h-8.5"/><path d="M399.5,283.61h-4.2"/><path d="M399.5,559.80h-4.2"/><path d="M399.5,267.36h-4.2"/><path d="M399.5,543.59h-4.2"/><path d="M399.5,255.83h-4.2"/><path d="M399.5,532.09h-4.2"/><path d="M399.5,246.89h-4.2"/><path d="M399.5,523.17h-4.2"/><path d="M399.5,239.58h-4.2"/><path d="M399.5,515.88h-4.2"/><path d="M399.5,233.40h-4.2"/><path d="M399.5,509.72h-4.2"/><path d="M399.5,228.04h-4.2"/><path d="M399.5,504.39h-4.2"/><path d="M399.5,223.32h-4.2"/><path d="M399.5,499.68h-4.2"/><path d="M399.5,219.10h-8.5"/><path d="M399.5,495.47h-8.5"/><path d="M399.5,191.31h-4.2"/><path d="M399.5,467.76h-4.2"/><path d="M399.5,175.06h-4.2"/><path d="M399.5,451.56h-4.2"/><path d="M399.5,163.53h-4.2"/><path d="M399.5,440.06h-4.2"/><path d="M399.5,154.59h-4.2"/><path d="M399.5,431.14h-4.2"/><path d="M399.5,147.28h-4.2"/><path d="M399.5,423.85h-4.2"/><path d="M399.5,141.10h-4.2"/><path d="M399.5,417.69h-4.2"/><path d="M399.5,135.74h-4.2"/><path d="M399.5,412.35h-4.2"/><path d="M399.5,131.02h-4.2"/><path d="M399.5,407.64h-4.2"/><path d="M399.5,126.80h-8.5"/><path d="M399.5,403.43h-8.5"/><path d="M399.5,99.01h-4.2"/><path d="M399.5,375.73h-4.2"/><path d="M399.5,82.76h-4.2"/><path d="M399.5,359.52h-4.2"/><path d="M399.5,71.23h-4.2"/><path d="M399.5,348.02h-4.2"/><path d="M399.5,62.29h-4.2"/><path d="M399.5,339.10h-4.2"/><path d="M399.5,54.98h-4.2"/><path d="M399.5,331.82h-4.2"/><path d="M399.5,48.80h-4.2"/><path d="M399.5,325.66h-4.2"/><path d="M399.5,43.44h-4.2"/><path d="M399.5,320.32h-4.2"/><path d="M399.5,38.72h-4.2"/><path d="M399.5,315.61h-4.2"/></g>
<g fill="none" stroke-width="1.0"><path d="M69.5,129.3H127.5" stroke="#ff0000"/><path d="M69.5,152H127.5" stroke="#0000ff"/><path d="M69.5,178.5H127.5" stroke="#ff00ff"/><path d="M93.75,201.3H127.5" stroke="#00ff00"/><path d="M92,223.75H127.5" stroke="#1c1c1c"/><path d="M74.5,261.6H127.5" stroke="#ff0000" stroke-dasharray="5 3"/><path d="M74.5,292.3H127.5" stroke="#0000ff" stroke-dasharray="5 3"/></g>
<g opacity="0.999"><text x="32.6" y="40.1" font-size="17.2" fill="#000" stroke="#fff" stroke-width="0.16" textLength="5.8" lengthAdjust="spacingAndGlyphs">1</text><text x="16.4" y="95.48" font-size="17.2" fill="#000" stroke="#fff" stroke-width="0.16" textLength="22" lengthAdjust="spacingAndGlyphs">0.8</text><text x="16.4" y="372.22" font-size="17.2" fill="#000" stroke="#fff" stroke-width="0.16" textLength="22" lengthAdjust="spacingAndGlyphs">0.8</text><text x="16.4" y="150.86" font-size="17.2" fill="#000" stroke="#fff" stroke-width="0.16" textLength="22" lengthAdjust="spacingAndGlyphs">0.6</text><text x="16.4" y="427.44" font-size="17.2" fill="#000" stroke="#fff" stroke-width="0.16" textLength="22" lengthAdjust="spacingAndGlyphs">0.6</text><text x="16.4" y="206.24" font-size="17.2" fill="#000" stroke="#fff" stroke-width="0.16" textLength="22" lengthAdjust="spacingAndGlyphs">0.4</text><text x="16.4" y="482.66" font-size="17.2" fill="#000" stroke="#fff" stroke-width="0.16" textLength="22" lengthAdjust="spacingAndGlyphs">0.4</text><text x="16.4" y="261.62" font-size="17.2" fill="#000" stroke="#fff" stroke-width="0.16" textLength="22" lengthAdjust="spacingAndGlyphs">0.2</text><text x="16.4" y="537.88" font-size="17.2" fill="#000" stroke="#fff" stroke-width="0.16" textLength="22" lengthAdjust="spacingAndGlyphs">0.2</text><text x="30.599999999999998" y="317.0" font-size="17.2" fill="#000" stroke="#fff" stroke-width="0.16" textLength="7.8" lengthAdjust="spacingAndGlyphs">0</text><text x="30.599999999999998" y="593.1" font-size="17.2" fill="#000" stroke="#fff" stroke-width="0.16" textLength="7.8" lengthAdjust="spacingAndGlyphs">0</text><text x="407.3" y="40.1" font-size="17.2" fill="#000" stroke="#fff" stroke-width="0.16" textLength="26.2" lengthAdjust="spacingAndGlyphs">100</text><text x="407.3" y="132.4" font-size="17.2" fill="#000" stroke="#fff" stroke-width="0.16" textLength="17" lengthAdjust="spacingAndGlyphs">10</text><text x="407.3" y="409.03" font-size="17.2" fill="#000" stroke="#fff" stroke-width="0.16" textLength="17" lengthAdjust="spacingAndGlyphs">10</text><text x="407.3" y="224.7" font-size="17.2" fill="#000" stroke="#fff" stroke-width="0.16" textLength="6.5" lengthAdjust="spacingAndGlyphs">1</text><text x="407.3" y="501.07" font-size="17.2" fill="#000" stroke="#fff" stroke-width="0.16" textLength="6.5" lengthAdjust="spacingAndGlyphs">1</text><text x="407.3" y="317.0" font-size="17.2" fill="#000" stroke="#fff" stroke-width="0.16" textLength="22" lengthAdjust="spacingAndGlyphs">0.1</text><text x="407.3" y="593.1" font-size="17.2" fill="#000" stroke="#fff" stroke-width="0.16" textLength="22" lengthAdjust="spacingAndGlyphs">0.1</text><text x="76.42" y="608.6" font-size="17.2" fill="#000" stroke="#fff" stroke-width="0.16" textLength="22.5" lengthAdjust="spacingAndGlyphs">0.1</text><text x="168.59" y="608.6" font-size="17.2" fill="#000" stroke="#fff" stroke-width="0.16" textLength="6.5" lengthAdjust="spacingAndGlyphs">1</text><text x="247.76" y="608.6" font-size="17.2" fill="#000" stroke="#fff" stroke-width="0.16" textLength="16.5" lengthAdjust="spacingAndGlyphs">10</text><text x="327.18" y="608.6" font-size="17.2" fill="#000" stroke="#fff" stroke-width="0.16" textLength="26" lengthAdjust="spacingAndGlyphs">100</text><g transform="translate(100.3,50.800000000000004)" fill="none" stroke="#000" stroke-linecap="round"><path d="M0.30,2.90 C0.71,1.30 1.61,0.70 3.03,0.70 L11.10,0.70" stroke-width="1.15"/><path d="M6.96,0.80 C6.05,4.50 5.05,8.50 4.44,11.20" stroke-width="1.55"/></g><text x="115" y="63.5" font-size="27" fill="#000" stroke="#fff" stroke-width="0.45" textLength="15" lengthAdjust="spacingAndGlyphs">=</text><g transform="translate(132.8,50.800000000000004)" fill="none" stroke="#000" stroke-linecap="round"><path d="M0.31,2.90 C0.73,1.30 1.66,0.70 3.11,0.70 L11.40,0.70" stroke-width="1.15"/><path d="M7.15,0.80 C6.22,4.50 5.18,8.50 4.56,11.20" stroke-width="1.55"/></g><text x="145.5" y="70" font-size="15.3" fill="#000" stroke="#fff" stroke-width="0.10" textLength="30.5" lengthAdjust="spacingAndGlyphs">max</text><text x="177" y="62" font-size="26.5" fill="#000" stroke="#fff" stroke-width="0.43" textLength="13" lengthAdjust="spacingAndGlyphs">e</text><text x="191.2" y="55.4" font-size="14.5" fill="#000" stroke="#fff" stroke-width="0.07" textLength="8.8" lengthAdjust="spacingAndGlyphs">−</text><text x="202" y="55.8" font-size="16.5" fill="#000" stroke="#fff" stroke-width="0.14" textLength="4.8" lengthAdjust="spacingAndGlyphs">(</text><text x="207" y="55.2" font-size="14.2" fill="#000" stroke="#fff" stroke-width="0.07" textLength="8.2" lengthAdjust="spacingAndGlyphs">x</text><text x="215.7" y="51" font-size="9" fill="#000" stroke="#fff" stroke-width="0.00" textLength="4.5" lengthAdjust="spacingAndGlyphs">2</text><text x="221.2" y="56.2" font-size="17" fill="#000" stroke="#fff" stroke-width="0.15" textLength="7.5" lengthAdjust="spacingAndGlyphs">/</text><text x="229.5" y="55.2" font-size="14.2" fill="#000" stroke="#fff" stroke-width="0.07" textLength="7.6" lengthAdjust="spacingAndGlyphs">b</text><text x="238" y="51" font-size="9" fill="#000" stroke="#fff" stroke-width="0.00" textLength="4.5" lengthAdjust="spacingAndGlyphs">2</text><text x="243.9" y="55.8" font-size="16.5" fill="#000" stroke="#fff" stroke-width="0.14" textLength="4.8" lengthAdjust="spacingAndGlyphs">)</text><text x="258.75" y="56.6" font-size="17.5" fill="#000" stroke="#fff" stroke-width="0.16" textLength="22.5" lengthAdjust="spacingAndGlyphs">0.1</text><text x="282.5" y="58.3" font-size="21" fill="#000" stroke="#fff" stroke-width="0.27" textLength="12" lengthAdjust="spacingAndGlyphs">&lt;</text><g transform="translate(296.7,47.5)" fill="none" stroke="#000" stroke-linecap="round"><path d="M0.23,2.14 C0.53,0.96 1.21,0.52 2.26,0.52 L8.30,0.52" stroke-width="0.85"/><path d="M5.21,0.59 C4.53,3.32 3.77,6.26 3.32,8.25" stroke-width="1.14"/></g><text x="307" y="62" font-size="11.7" fill="#000" stroke="#fff" stroke-width="0.00" textLength="21" lengthAdjust="spacingAndGlyphs">max</text><text x="329.5" y="58.3" font-size="21" fill="#000" stroke="#fff" stroke-width="0.27" textLength="11" lengthAdjust="spacingAndGlyphs">&lt;</text><text x="341" y="56.6" font-size="17.5" fill="#000" stroke="#fff" stroke-width="0.16" textLength="39.3" lengthAdjust="spacingAndGlyphs">1000</text><text x="258.8" y="81.5" font-size="23.5" fill="#ff0000" stroke="#fff" stroke-width="0.34" textLength="60" lengthAdjust="spacingAndGlyphs">b=0.2</text><text x="259.5" y="100.8" font-size="18" fill="#000" stroke="#fff" stroke-width="0.18" textLength="51.8" lengthAdjust="spacingAndGlyphs">1&lt;x&lt;0</text><text x="259.3" y="347.8" font-size="27.5" fill="#ff0000" stroke="#fff" stroke-width="0.46" textLength="66.5" lengthAdjust="spacingAndGlyphs">b=0.4</text><text x="57.5" y="129.5" font-size="20.3" fill="#ff0000" stroke="#fff" stroke-width="0.25" textLength="5" lengthAdjust="spacingAndGlyphs">I</text><text x="63" y="135" font-size="13.6" fill="#ff0000" stroke="#fff" stroke-width="0.05" textLength="6.8" lengthAdjust="spacingAndGlyphs">R</text><text x="57.5" y="152" font-size="20.3" fill="#0000ff" stroke="#fff" stroke-width="0.25" textLength="5" lengthAdjust="spacingAndGlyphs">I</text><text x="63" y="158" font-size="13.6" fill="#0000ff" stroke="#fff" stroke-width="0.05" textLength="6.5" lengthAdjust="spacingAndGlyphs">B</text><text x="57.5" y="178.75" font-size="20.3" fill="#ff00ff" stroke="#fff" stroke-width="0.25" textLength="5" lengthAdjust="spacingAndGlyphs">I</text><text x="63" y="172.6" font-size="11" fill="#ff00ff" stroke="#fff" stroke-width="0.00" textLength="6.2" lengthAdjust="spacingAndGlyphs">2</text><text x="63" y="184.6" font-size="13.6" fill="#ff00ff" stroke="#fff" stroke-width="0.05" textLength="6.8" lengthAdjust="spacingAndGlyphs">R</text><text x="59.5" y="201.3" font-size="20" fill="#00ff00" stroke="#fff" stroke-width="0.24" textLength="33.5" lengthAdjust="spacingAndGlyphs">1−C</text><g transform="translate(61,212.5)" fill="none" stroke="#000" stroke-linecap="round"><path d="M0.30,2.19 C0.70,0.98 1.60,0.53 3.00,0.53 L11.00,0.53" stroke-width="0.87"/><path d="M6.90,0.60 C6.00,3.39 5.00,6.41 4.40,8.45" stroke-width="1.17"/></g><path d="M61.9,209.4L72,209.4" stroke="#000" stroke-width="1" fill="none"/><path d="M58.3,223.9L74.8,223.9" stroke="#000" stroke-width="1" fill="none"/><g transform="translate(61,226.6)" fill="none" stroke="#000" stroke-linecap="round"><path d="M0.30,2.19 C0.70,0.98 1.60,0.53 3.00,0.53 L11.00,0.53" stroke-width="0.87"/><path d="M6.90,0.60 C6.00,3.39 5.00,6.41 4.40,8.45" stroke-width="1.17"/></g><text x="72.4" y="241.3" font-size="12" fill="#000" stroke="#fff" stroke-width="0.00" textLength="41.5" lengthAdjust="spacingAndGlyphs">doublet</text><text x="57" y="262" font-size="20" fill="#ff0000" stroke="#fff" stroke-width="0.24" textLength="10" lengthAdjust="spacingAndGlyphs">T</text><text x="67" y="268" font-size="13.6" fill="#ff0000" stroke="#fff" stroke-width="0.05" textLength="6.8" lengthAdjust="spacingAndGlyphs">R</text><text x="57" y="293" font-size="20" fill="#0000ff" stroke="#fff" stroke-width="0.24" textLength="10" lengthAdjust="spacingAndGlyphs">T</text><text x="67" y="298.8" font-size="13.6" fill="#0000ff" stroke="#fff" stroke-width="0.05" textLength="6.5" lengthAdjust="spacingAndGlyphs">B</text><g transform="translate(217.5,620.0)" fill="none" stroke="#000" stroke-linecap="round"><path d="M0.29,2.24 C0.69,1.00 1.57,0.54 2.95,0.54 L10.80,0.54" stroke-width="0.89"/><path d="M6.77,0.62 C5.89,3.47 4.91,6.56 4.32,8.65" stroke-width="1.20"/></g><path d="M218.2,617L228.3,617" stroke="#000" stroke-width="1" fill="none"/><text x="0" y="0" font-size="17.8" fill="#000" stroke="#fff" stroke-width="0.17" textLength="83.5" lengthAdjust="spacingAndGlyphs" transform="translate(10.9,489.2) rotate(-90)">residual</text><text x="0" y="0" font-size="17.8" fill="#000" stroke="#fff" stroke-width="0.17" textLength="107.2" lengthAdjust="spacingAndGlyphs" transform="translate(10.9,393) rotate(-90)">intensities</text><text x="0" y="0" font-size="17.8" fill="#000" stroke="#fff" stroke-width="0.17" textLength="35.6" lengthAdjust="spacingAndGlyphs" transform="translate(10.9,273.3) rotate(-90)">and</text><text x="0" y="0" font-size="17.8" fill="#000" stroke="#fff" stroke-width="0.17" textLength="97.5" lengthAdjust="spacingAndGlyphs" transform="translate(10.9,231.2) rotate(-90)">coverage</text><g transform="translate(360.8,216.7) rotate(-90)" fill="none" stroke="#000" stroke-linecap="round"><path d="M0.30,2.11 C0.70,0.95 1.60,0.51 3.00,0.51 L11.00,0.51" stroke-width="0.84"/><path d="M6.90,0.58 C6.00,3.28 5.00,6.19 4.40,8.15" stroke-width="1.13"/></g><path d="M358.7,205L358.7,217.2" stroke="#000" stroke-width="1" fill="none"/><path d="M371.4,202L371.4,220.9" stroke="#000" stroke-width="1" fill="none"/><g transform="translate(373.2,216.7) rotate(-90)" fill="none" stroke="#000" stroke-linecap="round"><path d="M0.30,2.11 C0.70,0.95 1.60,0.51 3.00,0.51 L11.00,0.51" stroke-width="0.84"/><path d="M6.90,0.58 C6.00,3.28 5.00,6.19 4.40,8.15" stroke-width="1.13"/></g><text x="0" y="0" font-size="11.8" fill="#000" stroke="#fff" stroke-width="0.00" textLength="45.2" lengthAdjust="spacingAndGlyphs" transform="translate(386.7,203.8) rotate(-90)">doublet</text><g transform="translate(360.8,485.0) rotate(-90)" fill="none" stroke="#000" stroke-linecap="round"><path d="M0.30,2.11 C0.70,0.95 1.60,0.51 3.00,0.51 L11.00,0.51" stroke-width="0.84"/><path d="M6.90,0.58 C6.00,3.28 5.00,6.19 4.40,8.15" stroke-width="1.13"/></g><path d="M358.7,473.3L358.7,485.5" stroke="#000" stroke-width="1" fill="none"/><path d="M371.4,470.3L371.4,489.20000000000005" stroke="#000" stroke-width="1" fill="none"/><g transform="translate(373.2,485.0) rotate(-90)" fill="none" stroke="#000" stroke-linecap="round"><path d="M0.30,2.11 C0.70,0.95 1.60,0.51 3.00,0.51 L11.00,0.51" stroke-width="0.84"/><path d="M6.90,0.58 C6.00,3.28 5.00,6.19 4.40,8.15" stroke-width="1.13"/></g><text x="0" y="0" font-size="11.8" fill="#000" stroke="#fff" stroke-width="0.00" textLength="45.2" lengthAdjust="spacingAndGlyphs" transform="translate(386.7,472.1) rotate(-90)">doublet</text></g>
</svg>
</body></html>
